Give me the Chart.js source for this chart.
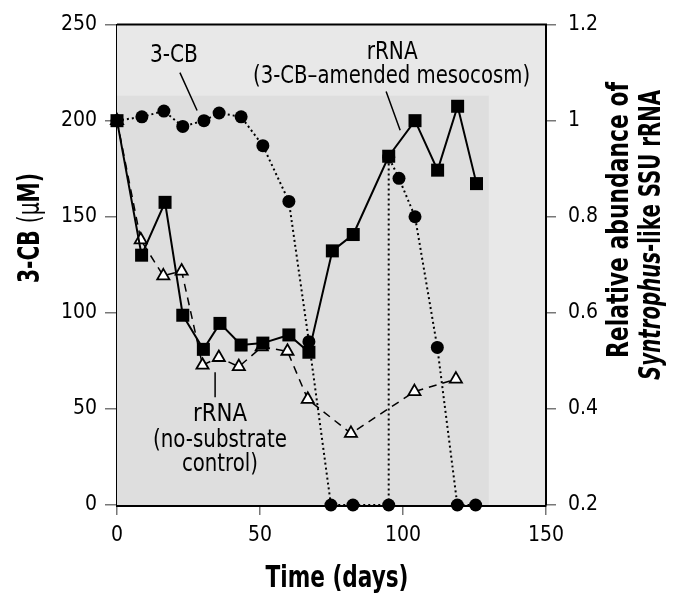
<!DOCTYPE html>
<html>
<head>
<meta charset="utf-8">
<script src="https://cdn.jsdelivr.net/npm/chart.js@4"></script>
<style>
  body { margin: 0; background: #fff; }
  #wrap { width: 681px; height: 609px; }
</style>
</head>
<body>
<div id="wrap"><canvas id="c" width="681" height="609"></canvas></div>
<script>
// 3-CB concentration (uM), left axis
var cbDays = [0, 8.7, 16.4, 23, 30.4, 35.7, 43.4, 51, 60.1, 67.1, 74.8, 82.5, 95, 95, 98.6, 104.2, 112, 119, 125.4];
var cbValues = [200, 202, 205, 197, 200, 204, 202, 187, 158, 85, 0, 0, 0, 181, 170, 150, 82, 0, 0];

// rRNA, 3-CB-amended mesocosm, right axis
var amendedDays = [0, 8.6, 16.8, 23, 30.2, 36, 43.4, 51, 60.1, 67.1, 75.3, 82.6, 95, 104.2, 112.1, 119.1, 125.7];
var amendedValues = [1.0, 0.72, 0.83, 0.595, 0.524, 0.578, 0.533, 0.537, 0.554, 0.518, 0.729, 0.763, 0.926, 1.0, 0.897, 1.03, 0.869];

// rRNA, no-substrate control, right axis
var controlDays = [0, 8.3, 16.2, 22.6, 29.9, 35.6, 42.6, 50.6, 59.6, 66.7, 81.8, 104, 118.5];
var controlValues = [1.0, 0.752, 0.677, 0.687, 0.491, 0.507, 0.488, 0.529, 0.52, 0.42, 0.349, 0.436, 0.462];

var xTicks = [0, 50, 100, 150];
var leftTicks = [0, 50, 100, 150, 200, 250];
var rightTicks = [0.2, 0.4, 0.6, 0.8, 1, 1.2];

var FONT = "'DejaVu Sans Condensed', 'Liberation Sans Narrow', sans-serif";

function pts(xs, ys) {
  var out = [];
  for (var i = 0; i < xs.length; i++) out.push({x: xs[i], y: ys[i]});
  return out;
}

// draws text made of several font runs, squeezed to a given width, centred at (cx, cy)
function drawFitted(ctx, parts, cx, cy, width, rotate) {
  var total = 0;
  parts.forEach(function(p) { ctx.font = p[0]; p.w = ctx.measureText(p[1]).width; total += p.w; });
  ctx.save();
  ctx.translate(cx, cy);
  if (rotate) ctx.rotate(-Math.PI / 2);
  ctx.scale(width / total, 1);
  ctx.textAlign = 'left';
  ctx.textBaseline = 'middle';
  var x = -total / 2;
  parts.forEach(function(p) { ctx.font = p[0]; ctx.fillText(p[1], x, 0); x += p.w; });
  ctx.restore();
}

// shaded backgrounds + frame
var backdrop = {
  id: 'backdrop',
  beforeDatasetsDraw: function(chart) {
    var ctx = chart.ctx, a = chart.chartArea, x = chart.scales.x, y = chart.scales.y;
    ctx.save();
    ctx.fillStyle = '#e8e8e8';
    ctx.fillRect(a.left, a.top, a.right - a.left, a.bottom - a.top);
    var x1 = x.getPixelForValue(130), yTop = y.getPixelForValue(213);
    ctx.fillStyle = '#dedede';
    ctx.fillRect(a.left, yTop, x1 - a.left, a.bottom - yTop);
    ctx.restore();
  },
  afterDraw: function(chart) {
    var ctx = chart.ctx, a = chart.chartArea;
    ctx.save();
    ctx.strokeStyle = '#000';
    ctx.lineWidth = 2;
    ctx.beginPath();
    ctx.moveTo(a.left, a.top);
    ctx.lineTo(a.right, a.top);
    ctx.lineTo(a.right, a.bottom);
    ctx.stroke();
    ctx.restore();
  }
};

// axis titles and the in-plot labels
var labels = {
  id: 'labels',
  afterDraw: function(chart) {
    var ctx = chart.ctx, x = chart.scales.x, y = chart.scales.y;
    ctx.save();
    ctx.fillStyle = '#000';
    var B = 'bold 30px ' + FONT, R = '30px ' + FONT;

    drawFitted(ctx, [[B, 'Time (days)']], 337, 579, 143, false);
    drawFitted(ctx, [[B, '3-CB '], [R, '(\u03BC'], [B, 'M)']], 31, 228, 110, true);
    drawFitted(ctx, [[B, 'Relative abundance of']], 620, 220, 276, true);
    drawFitted(ctx, [['italic ' + B, 'Syntrophus'], [B, '-like SSU rRNA']], 652, 235, 290, true);

    var A = '24px ' + FONT;
    drawFitted(ctx, [[A, '3-CB']], x.getPixelForValue(19.9), y.getPixelForValue(234), 48, false);
    drawFitted(ctx, [[A, 'rRNA']], x.getPixelForValue(96.2), y.getPixelForValue(235.4), 51, false);
    drawFitted(ctx, [[A, '(3-CB\u2013amended mesocosm)']], x.getPixelForValue(96), y.getPixelForValue(223), 277, false);
    drawFitted(ctx, [[A, 'rRNA']], x.getPixelForValue(36), y.getPixelForValue(46.8), 54, false);
    drawFitted(ctx, [[A, '(no-substrate']], x.getPixelForValue(36), y.getPixelForValue(33.3), 134, false);
    drawFitted(ctx, [[A, 'control)']], x.getPixelForValue(36), y.getPixelForValue(20.8), 76, false);

    ctx.strokeStyle = '#000';
    ctx.lineWidth = 1.5;
    ctx.beginPath();
    ctx.moveTo(x.getPixelForValue(22), y.getPixelForValue(225));
    ctx.lineTo(x.getPixelForValue(28), y.getPixelForValue(205.3));
    ctx.moveTo(x.getPixelForValue(94.1), y.getPixelForValue(215.2));
    ctx.lineTo(x.getPixelForValue(99), y.getPixelForValue(195));
    ctx.moveTo(x.getPixelForValue(34.3), y.getPixelForValue(69.1));
    ctx.lineTo(x.getPixelForValue(34.3), y.getPixelForValue(56.1));
    ctx.stroke();
    ctx.restore();
  }
};

var ctx = document.getElementById('c').getContext('2d');
var chart = new Chart(ctx, {
  type: 'line',
  data: {
    datasets: [{
      label: 'rRNA (3-CB-amended mesocosm)',
      data: pts(amendedDays, amendedValues),
      yAxisID: 'y2',
      borderColor: '#000',
      borderWidth: 2,
      pointStyle: 'rect',
      pointRadius: 9.2,
      pointBackgroundColor: '#000',
      pointBorderColor: '#000',
      pointBorderWidth: 0,
      order: 0,
      clip: false
    }, {
      label: '3-CB',
      data: pts(cbDays, cbValues),
      yAxisID: 'y',
      borderColor: '#000',
      borderWidth: 2,
      borderDash: [2, 3],
      pointStyle: 'circle',
      pointRadius: 6.5,
      pointBackgroundColor: '#000',
      pointBorderColor: '#000',
      pointBorderWidth: 0,
      order: 1,
      clip: false
    }, {
      label: 'rRNA (no-substrate control)',
      data: pts(controlDays, controlValues),
      yAxisID: 'y2',
      borderColor: '#000',
      borderWidth: 1.5,
      borderDash: [8, 6],
      pointStyle: 'triangle',
      pointRadius: 7,
      pointBackgroundColor: '#fff',
      pointBorderColor: '#000',
      pointBorderWidth: 1.8,
      order: 2,
      clip: false
    }]
  },
  options: {
    responsive: false,
    animation: false,
    layout: { padding: { top: 24, left: 0, right: 0, bottom: 0 } },
    plugins: { legend: { display: false }, tooltip: { enabled: false } },
    elements: { line: { tension: 0 } },
    scales: {
      x: {
        type: 'linear',
        min: 0, max: 150,
        afterBuildTicks: function(s) { s.ticks = xTicks.map(function(v) { return {value: v}; }); },
        afterFit: function(s) { s.height = 104; },
        grid: { drawOnChartArea: false, drawTicks: true, tickLength: 10, color: '#777', lineWidth: 1.5 },
        border: { color: '#000', width: 3 },
        ticks: { color: '#000', padding: 8, font: { family: FONT, size: 21 } }
      },
      y: {
        type: 'linear',
        position: 'left',
        min: 0, max: 250,
        afterBuildTicks: function(s) { s.ticks = leftTicks.map(function(v) { return {value: v}; }); },
        afterFit: function(s) { s.width = 117; },
        grid: { drawOnChartArea: false, drawTicks: true, tickLength: 12, color: '#777', lineWidth: 1.5 },
        border: { color: '#000', width: 2 },
        ticks: { color: '#000', padding: 8, font: { family: FONT, size: 21 } }
      },
      y2: {
        type: 'linear',
        position: 'right',
        min: 0.2, max: 1.2,
        afterBuildTicks: function(s) { s.ticks = rightTicks.map(function(v) { return {value: v}; }); },
        afterFit: function(s) { s.width = 135; },
        grid: { drawOnChartArea: false, drawTicks: true, tickLength: 10, color: '#777', lineWidth: 1.5 },
        border: { color: '#000', width: 2 },
        ticks: {
          color: '#000', padding: 12, font: { family: FONT, size: 21 },
          callback: function(v) { return String(Math.round(v * 10) / 10); }
        }
      }
    }
  },
  plugins: [backdrop, labels]
});
</script>
</body>
</html>
